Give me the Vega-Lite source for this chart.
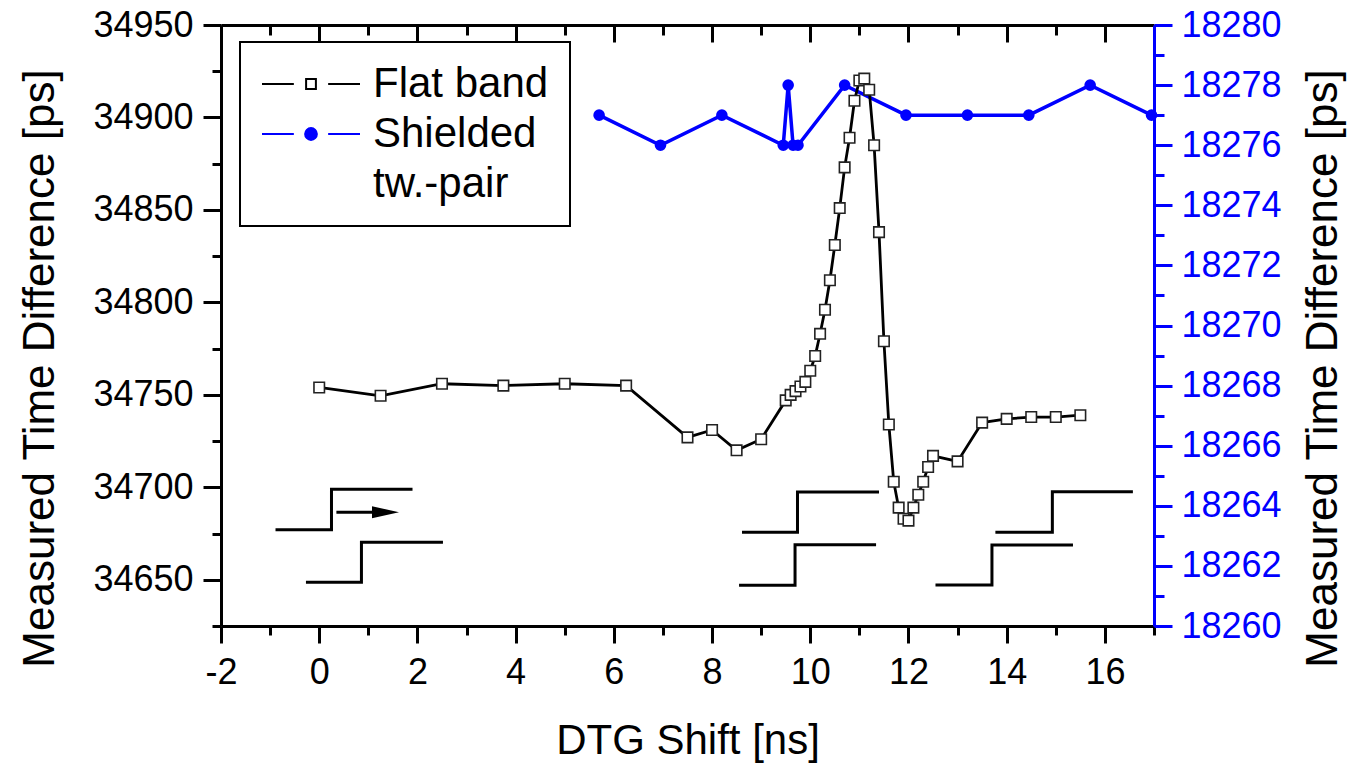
{
  "$schema": "https://vega.github.io/schema/vega-lite/v6.json",
  "width": 933,
  "height": 601,
  "autosize": {"type": "none"},
  "padding": {"left": 221, "top": 25, "right": 201, "bottom": 142},
  "background": "white",
  "config": {
    "view": {"stroke": null},
    "font": "Liberation Sans",
    "axis": {
      "labelFont": "Liberation Sans", "titleFont": "Liberation Sans",
      "labelFontSize": 36, "titleFontSize": 44, "titleFontWeight": "normal",
      "labelColor": "black", "titleColor": "black",
      "domainColor": "black", "tickColor": "black",
      "domainWidth": 3, "tickWidth": 3, "grid": false,
      "labelOverlap": false, "labelFlush": false, "labelBound": false
    },
    "legend": {"labelFont": "Liberation Sans", "labelFontSize": 42, "labelColor": "black", "labelLimit": 600, "strokeWidth": 2}
  },
  "datasets": {
    "flat": [
      {"series": "Flat band", "x": 0, "y": 34754}, {"series": "Flat band", "x": 1.25, "y": 34749.5},
      {"series": "Flat band", "x": 2.5, "y": 34756}, {"series": "Flat band", "x": 3.75, "y": 34755},
      {"series": "Flat band", "x": 5, "y": 34756}, {"series": "Flat band", "x": 6.25, "y": 34755},
      {"series": "Flat band", "x": 7.5, "y": 34727}, {"series": "Flat band", "x": 8, "y": 34731},
      {"series": "Flat band", "x": 8.5, "y": 34720}, {"series": "Flat band", "x": 9, "y": 34726},
      {"series": "Flat band", "x": 9.5, "y": 34747}, {"series": "Flat band", "x": 9.6, "y": 34750},
      {"series": "Flat band", "x": 9.7, "y": 34752}, {"series": "Flat band", "x": 9.8, "y": 34754.5},
      {"series": "Flat band", "x": 9.9, "y": 34757}, {"series": "Flat band", "x": 10, "y": 34763},
      {"series": "Flat band", "x": 10.1, "y": 34771}, {"series": "Flat band", "x": 10.2, "y": 34783},
      {"series": "Flat band", "x": 10.3, "y": 34796}, {"series": "Flat band", "x": 10.4, "y": 34812},
      {"series": "Flat band", "x": 10.5, "y": 34831}, {"series": "Flat band", "x": 10.6, "y": 34851},
      {"series": "Flat band", "x": 10.7, "y": 34873}, {"series": "Flat band", "x": 10.8, "y": 34889},
      {"series": "Flat band", "x": 10.9, "y": 34909}, {"series": "Flat band", "x": 11, "y": 34920},
      {"series": "Flat band", "x": 11.1, "y": 34921}, {"series": "Flat band", "x": 11.2, "y": 34915},
      {"series": "Flat band", "x": 11.3, "y": 34885}, {"series": "Flat band", "x": 11.4, "y": 34838},
      {"series": "Flat band", "x": 11.5, "y": 34779}, {"series": "Flat band", "x": 11.6, "y": 34734},
      {"series": "Flat band", "x": 11.7, "y": 34703}, {"series": "Flat band", "x": 11.8, "y": 34689},
      {"series": "Flat band", "x": 11.9, "y": 34683}, {"series": "Flat band", "x": 12, "y": 34682},
      {"series": "Flat band", "x": 12.1, "y": 34689}, {"series": "Flat band", "x": 12.2, "y": 34696},
      {"series": "Flat band", "x": 12.3, "y": 34703}, {"series": "Flat band", "x": 12.4, "y": 34711},
      {"series": "Flat band", "x": 12.5, "y": 34717}, {"series": "Flat band", "x": 13, "y": 34714},
      {"series": "Flat band", "x": 13.5, "y": 34735}, {"series": "Flat band", "x": 14, "y": 34737},
      {"series": "Flat band", "x": 14.5, "y": 34738}, {"series": "Flat band", "x": 15, "y": 34738},
      {"series": "Flat band", "x": 15.5, "y": 34739}
    ],
    "shielded": [
      {"series": "Shielded tw.-pair", "x": 5.7, "y": 18277}, {"series": "Shielded tw.-pair", "x": 6.95, "y": 18276},
      {"series": "Shielded tw.-pair", "x": 8.2, "y": 18277}, {"series": "Shielded tw.-pair", "x": 9.45, "y": 18276},
      {"series": "Shielded tw.-pair", "x": 9.55, "y": 18278}, {"series": "Shielded tw.-pair", "x": 9.65, "y": 18276},
      {"series": "Shielded tw.-pair", "x": 9.75, "y": 18276}, {"series": "Shielded tw.-pair", "x": 10.7, "y": 18278},
      {"series": "Shielded tw.-pair", "x": 11.95, "y": 18277}, {"series": "Shielded tw.-pair", "x": 13.2, "y": 18277},
      {"series": "Shielded tw.-pair", "x": 14.45, "y": 18277}, {"series": "Shielded tw.-pair", "x": 15.7, "y": 18278},
      {"series": "Shielded tw.-pair", "x": 16.95, "y": 18277}
    ],
    "waves": [
      {"wave": "w1", "i": 1, "x": -0.89, "y": 34677}, {"wave": "w1", "i": 2, "x": 0.25, "y": 34677},
      {"wave": "w1", "i": 3, "x": 0.25, "y": 34699}, {"wave": "w1", "i": 4, "x": 1.9, "y": 34699},
      {"wave": "w2", "i": 1, "x": -0.27, "y": 34648.6}, {"wave": "w2", "i": 2, "x": 0.86, "y": 34648.6},
      {"wave": "w2", "i": 3, "x": 0.86, "y": 34670.3}, {"wave": "w2", "i": 4, "x": 2.52, "y": 34670.3},
      {"wave": "w3", "i": 1, "x": 8.61, "y": 34675.7}, {"wave": "w3", "i": 2, "x": 9.74, "y": 34675.7},
      {"wave": "w3", "i": 3, "x": 9.74, "y": 34697.5}, {"wave": "w3", "i": 4, "x": 11.4, "y": 34697.5},
      {"wave": "w4", "i": 1, "x": 8.55, "y": 34647}, {"wave": "w4", "i": 2, "x": 9.69, "y": 34647},
      {"wave": "w4", "i": 3, "x": 9.69, "y": 34669}, {"wave": "w4", "i": 4, "x": 11.34, "y": 34669},
      {"wave": "w5", "i": 1, "x": 13.77, "y": 34675.7}, {"wave": "w5", "i": 2, "x": 14.93, "y": 34675.7},
      {"wave": "w5", "i": 3, "x": 14.93, "y": 34697.6}, {"wave": "w5", "i": 4, "x": 16.57, "y": 34697.6},
      {"wave": "w6", "i": 1, "x": 12.55, "y": 34647.2}, {"wave": "w6", "i": 2, "x": 13.7, "y": 34647.2},
      {"wave": "w6", "i": 3, "x": 13.7, "y": 34668.8}, {"wave": "w6", "i": 4, "x": 15.35, "y": 34668.8}
    ],
    "arrow": [
      {"x": 0.35, "y": 34686.5}, {"x": 1.15, "y": 34686.5}
    ],
    "arrowhead": [
      {"x": 1.35, "y": 34686.5}
    ],
    "legendkeys": []
  },
  "layer": [
    {
      "layer": [
        {
          "data": {"name": "shielded"},
          "mark": {"type": "line", "strokeWidth": 3.5, "color": "blue"},
          "encoding": {
            "x": {"field": "x", "type": "quantitative", "scale": {"domain": [-2, 17], "nice": false, "zero": false}, "axis": null},
            "y": {"field": "y", "type": "quantitative", "scale": {"domain": [18260, 18280], "nice": false, "zero": false},
              "axis": {"orient": "right", "values": [18260,18262,18264,18266,18268,18270,18272,18274,18276,18278,18280],
                "labelExpr": "'' + datum.value", "tickSize": 18,
                "domainColor": "blue", "tickColor": "blue", "labelColor": "blue", "labelPadding": 9,
                "title": "Measured Time Difference [ps]", "titleAngle": -90, "titleBaseline": "top", "titlePadding": 20, "titleY": 343}}
          }
        },
        {
          "data": {"name": "shielded"},
          "mark": {"type": "circle", "color": "blue", "size": 135, "opacity": 1},
          "encoding": {
            "x": {"field": "x", "type": "quantitative", "scale": {"domain": [-2, 17], "nice": false, "zero": false}, "axis": null},
            "y": {"field": "y", "type": "quantitative", "scale": {"domain": [18260, 18280], "nice": false, "zero": false},
              "axis": {"orient": "right", "values": [18261,18263,18265,18267,18269,18271,18273,18275,18277,18279], "labels": false, "title": null, "domain": false, "tickSize": 10, "tickColor": "blue"}}
          }
        }
      ],
      "resolve": {"axis": {"x": "independent", "y": "independent"}}
    },
    {
      "layer": [
        {
          "data": {"name": "waves"},
          "mark": {"type": "line", "color": "black", "strokeWidth": 3},
          "encoding": {
            "x": {"field": "x", "type": "quantitative", "scale": {"domain": [-2, 17], "nice": false, "zero": false},
              "axis": {"orient": "bottom", "values": [-2,0,2,4,6,8,10,12,14,16],
                "labelExpr": "'' + datum.value", "tickSize": 17,
                "labelPadding": 12, "title": "DTG Shift [ns]", "titleFontSize": 42, "titlePadding": 30}},
            "y": {"field": "y", "type": "quantitative", "scale": {"domain": [34625, 34950], "nice": false, "zero": false},
              "axis": {"orient": "left", "values": [34650,34700,34750,34800,34850,34900,34950],
                "labelExpr": "'' + datum.value", "tickSize": 18,
                "labelPadding": 10, "title": "Measured Time Difference [ps]", "titlePadding": 30, "titleY": 343}},
            "detail": {"field": "wave"},
            "order": {"field": "i", "type": "quantitative"}
          }
        },
        {
          "data": {"name": "arrow"},
          "mark": {"type": "line", "color": "black", "strokeWidth": 3},
          "encoding": {
            "x": {"field": "x", "type": "quantitative", "scale": {"domain": [-2, 17], "nice": false, "zero": false},
              "axis": {"orient": "bottom", "values": [-1,1,3,5,7,9,11,13,15,17], "labels": false, "title": null, "domain": false, "tickSize": 9}},
            "y": {"field": "y", "type": "quantitative", "scale": {"domain": [34625, 34950], "nice": false, "zero": false},
              "axis": {"orient": "left", "values": [34625,34675,34725,34775,34825,34875,34925], "labels": false, "title": null, "domain": false, "tickSize": 9}}
          }
        },
        {
          "data": {"name": "arrowhead"},
          "mark": {"type": "point", "shape": "M-1,-0.45L1,0L-1,0.45Z", "filled": true, "color": "black", "size": 729, "opacity": 1},
          "encoding": {
            "x": {"field": "x", "type": "quantitative", "scale": {"domain": [-2, 17], "nice": false, "zero": false},
              "axis": {"orient": "bottom", "offset": -601, "values": [-2,0,2,4,6,8,10,12,14,16], "labels": false, "title": null, "tickSize": 17}},
            "y": {"field": "y", "type": "quantitative", "scale": {"domain": [34625, 34950], "nice": false, "zero": false}, "axis": null}
          }
        },
        {
          "data": {"name": "flat"},
          "mark": {"type": "line", "strokeWidth": 2.8, "color": "black"},
          "encoding": {
            "x": {"field": "x", "type": "quantitative", "scale": {"domain": [-2, 17], "nice": false, "zero": false},
              "axis": {"orient": "bottom", "offset": -601, "values": [-1,1,3,5,7,9,11,13,15,17], "labels": false, "title": null, "domain": false, "tickSize": 10}},
            "y": {"field": "y", "type": "quantitative", "scale": {"domain": [34625, 34950], "nice": false, "zero": false}, "axis": null}
          }
        },
        {
          "data": {"name": "flat"},
          "mark": {"type": "point", "shape": "square", "filled": true, "fill": "white", "stroke": "#222222", "strokeWidth": 1.6, "size": 110, "opacity": 1},
          "encoding": {
            "x": {"field": "x", "type": "quantitative", "scale": {"domain": [-2, 17], "nice": false, "zero": false}, "axis": null},
            "y": {"field": "y", "type": "quantitative", "scale": {"domain": [34625, 34950], "nice": false, "zero": false}, "axis": null}
          }
        },
        {
          "data": {"name": "legendkeys"},
          "mark": {"type": "point", "filled": false, "opacity": 1, "strokeWidth": 2},
          "encoding": {
            "color": {"field": "series", "type": "nominal",
              "scale": {"domain": ["Flat band", "Shielded tw.-pair", "tw.-pair"], "range": ["black", "blue", "white"]},
              "legend": {"title": null, "orient": "none", "legendX": 19, "legendY": 17, "symbolSize": 9604, "symbolStrokeWidth": 2, "symbolOpacity": 1, "clipHeight": 42, "labelOffset": 12, "rowPadding": 8, "padding": 21, "strokeColor": "black", "fillColor": "white", "labelExpr": "datum.value == 'Shielded tw.-pair' ? 'Shielded' : datum.value"}},
            "fill": {"field": "series", "type": "nominal",
              "scale": {"domain": ["Flat band", "Shielded tw.-pair", "tw.-pair"], "range": ["white", "blue", "transparent"]},
              "legend": {"title": null, "orient": "none", "legendX": 19, "legendY": 17, "symbolSize": 9604, "symbolStrokeWidth": 2, "symbolOpacity": 1, "clipHeight": 42, "labelOffset": 12, "rowPadding": 8, "padding": 21, "strokeColor": "black", "fillColor": "white", "labelExpr": "datum.value == 'Shielded tw.-pair' ? 'Shielded' : datum.value"}},
            "shape": {"field": "series", "type": "nominal",
              "scale": {"domain": ["Flat band", "Shielded tw.-pair", "tw.-pair"], "range": ["M-1,0H-0.35M0.35,0H1M-0.1,-0.1H0.1V0.1H-0.1Z", "M-1,0H-0.35M0.35,0H1M0.12,0A0.12,0.12,0,1,1,-0.12,0A0.12,0.12,0,1,1,0.12,0Z", "M-1,0H-0.35M0.35,0H1M0.12,0A0.12,0.12,0,1,1,-0.12,0A0.12,0.12,0,1,1,0.12,0Z"]},
              "legend": {"title": null, "orient": "none", "legendX": 19, "legendY": 17, "symbolSize": 9604, "symbolStrokeWidth": 2, "symbolOpacity": 1, "clipHeight": 42, "labelOffset": 12, "rowPadding": 8, "padding": 21, "strokeColor": "black", "fillColor": "white", "labelExpr": "datum.value == 'Shielded tw.-pair' ? 'Shielded' : datum.value"}}
          }
        }
      ],
      "resolve": {"axis": {"x": "independent", "y": "independent"}}
    }
  ],
  "resolve": {"scale": {"y": "independent"}, "axis": {"x": "independent", "y": "independent"}}
}
